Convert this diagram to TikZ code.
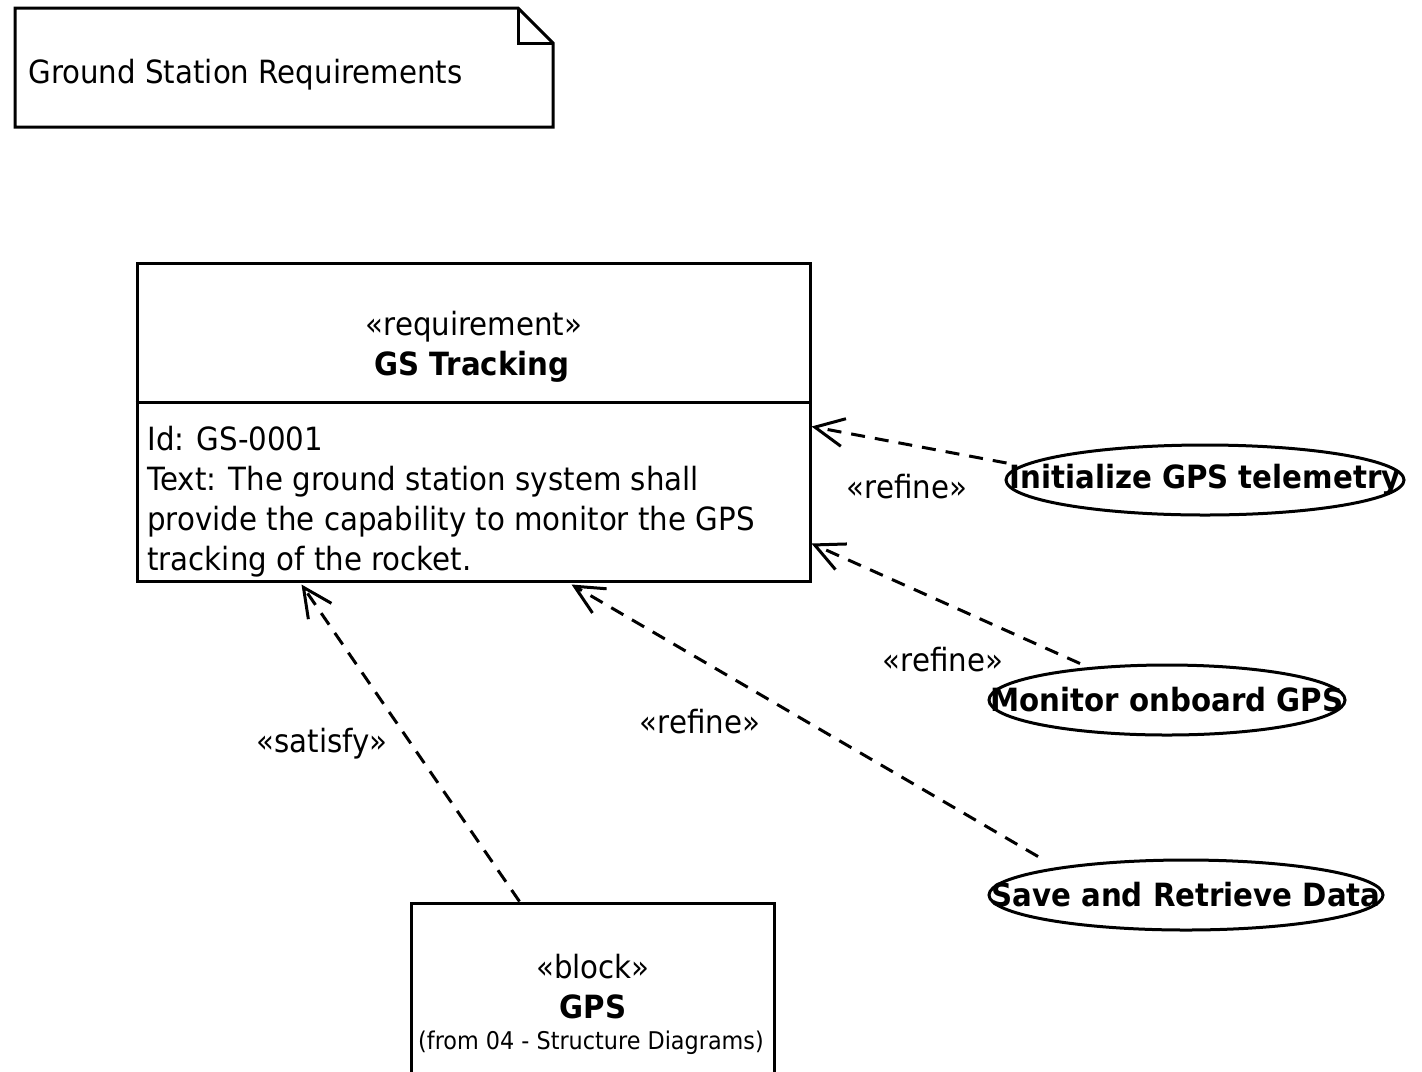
\documentclass[tikz,border=0pt]{standalone}
\usepackage{fontspec}
\setmainfont[FakeStretch=0.915]{DejaVu Sans}
\usetikzlibrary{arrows.meta,shapes.geometric,calc}

\begin{document}
\begin{tikzpicture}[x=0.5pt,y=-0.5pt,
  every node/.style={inner sep=0pt},
  txt/.style={font=\fontsize{16}{20}\selectfont},
  bold/.style={font=\fontsize{16}{20}\selectfont\bfseries},
  small/.style={font=\fontsize{12.2}{15}\selectfont},
  outline/.style={draw, line width=1.5pt},
  usecase/.style={draw, ellipse, line width=1.5pt, minimum height=35pt},
  dep/.style={line width=1.5pt, dash pattern=on 7pt off 5pt,
    -{Straight Barb[length=14.5pt,width=14pt,line width=1.5pt]}},
]
\clip (0,0) rectangle (1422,1071);

% package note with folded corner
\draw[line width=1.5pt, line join=miter] (15,8) -- (518,8) -- (553,43) -- (553,127) -- (15,127) -- cycle;
\draw[line width=1.5pt] (518,8) -- (518,43) -- (553,43);
\node[txt, anchor=west] (pkg) at (28,75) {Ground Station Requirements};

% requirement
\node[outline, minimum width=336.5pt, minimum height=159pt] (req) at (473.5,422) {};
\draw[line width=1.5pt] (req.west |- 0,402) -- (req.east |- 0,402);
\node[txt] (reqst) at (474,327) {«requirement»};
\node[bold] (reqname) at (472,367) {GS Tracking};
\node[txt, anchor=north west, align=left] (reqbody) at (147,426)
  {Id: GS-0001\\Text: The ground station system shall\\provide the capability to monitor the GPS\\tracking of the rocket.};

% use cases
\node[usecase, minimum width=199pt] (u1) at (1205,480) {};
\node[bold] (u1t) at (u1) {Initialize GPS telemetry};
\node[usecase, minimum width=178pt] (u2) at (1167,700) {};
\node[bold] (u2t) at (u2) {Monitor onboard GPS};
\node[usecase, minimum width=197pt] (u3) at (1186,895) {};
\node[bold] (u3t) at (u3) {Save and Retrieve Data};

% block
\node[outline, minimum width=181.5pt, minimum height=91pt] (gps) at (592.5,994) {};
\node[txt] (gpsst) at (593,967) {«block»};
\node[bold] (gpsname) at (593,1007) {GPS};
\node[small] (gpsfrom) at (591,1043) {(from 04 - Structure Diagrams)};

% dependencies
\draw[dep] ([shift={(2,-17)}]u1.west) -- ($(req.north east)+(0,165)$);
\draw[dep] ([shift={(-87,0)}]u2.north) -- ($(req.north east)+(0,282)$);
\draw[dep] ([shift={(-148,-2)}]u3.north) -- ($(req.south west)+(436,2)$);
\draw[dep] ($(gps.north)+(-73,0)$) -- ($(req.south west)+(166,2)$);

\node[txt] (l1) at (907,487) {«refine»};
\node[txt] (l2) at (943,660) {«refine»};
\node[txt] (l3) at (700,722) {«refine»};
\node[txt] (l4) at (322,744) {«satisfy»};
\end{tikzpicture}
\end{document}
